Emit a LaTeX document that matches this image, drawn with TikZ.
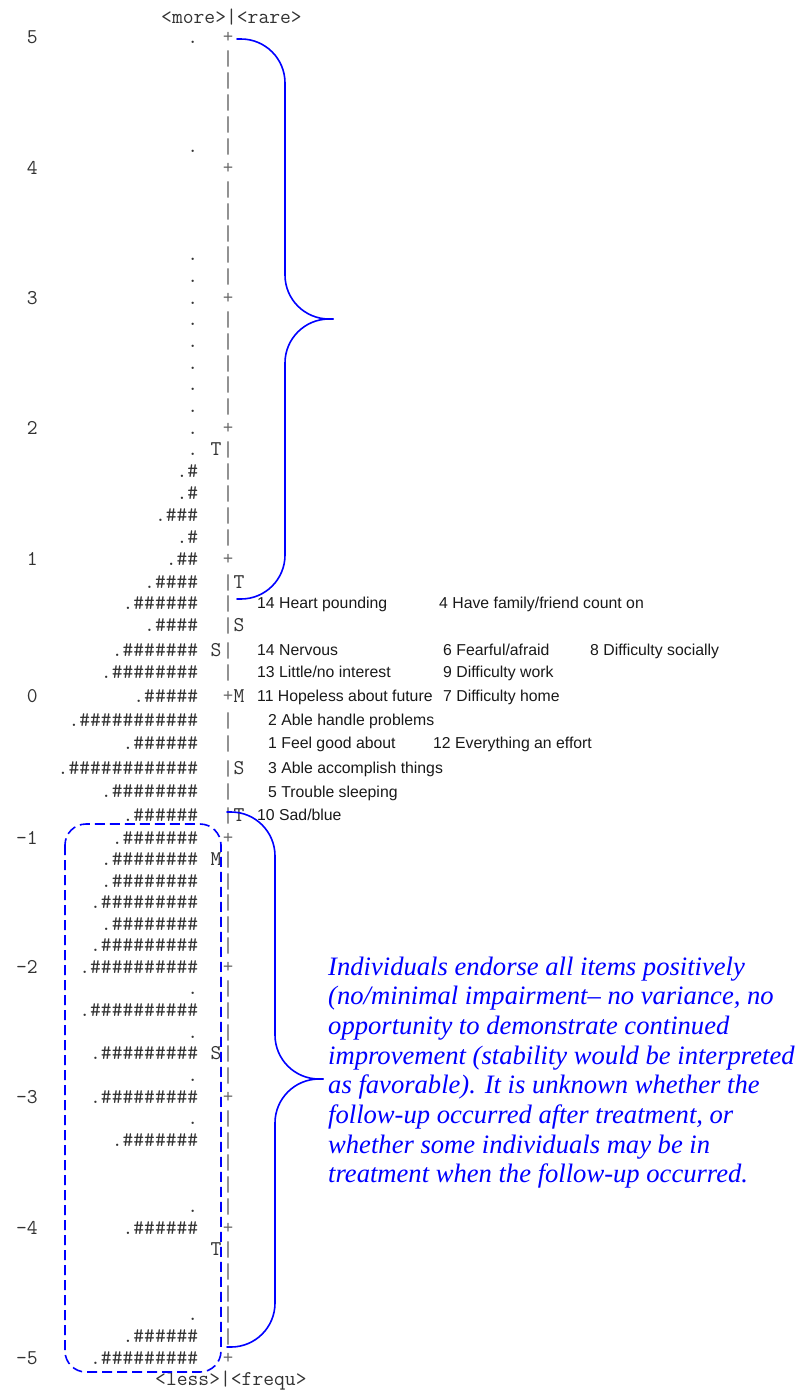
\documentclass[tikz,border=0pt]{standalone}
\usepackage{fontspec}
\usepackage{tikz}
\newfontfamily\itemfont{Liberation Sans}
\newfontfamily\notefont{Liberation Serif}
\newfontfamily\axfont{Liberation Mono}
\definecolor{qqqqff}{rgb}{0.,0.,1.}
\definecolor{wwwwww}{rgb}{0.4,0.4,0.4}
\definecolor{sqsqsq}{rgb}{0.2,0.2,0.2}
\newcommand{\hashes}[1]{\ifnum#1>0 \#\expandafter\hashes\expandafter{\the\numexpr#1-1\relax}\fi}
\tikzstyle{every node}=[inner sep=0pt]
\tikzset{
  tt/.style={font=\ttfamily\fontsize{21}{21}\selectfont,text=sqsqsq},
  axchar/.style={font=\axfont\fontsize{17.5}{17.5}\selectfont,text=wwwwww,anchor=base},
  item/.style={font=\itemfont\fontsize{15.8}{16}\selectfont,text=black!90,anchor=base west},
  noteline/.style={font=\notefont\itshape\fontsize{26.6}{29.7}\selectfont,text=qqqqff,anchor=base west},
  brace/.style={line width=1.6pt,color=qqqqff,rounded corners=44pt},
}
\begin{document}
\begin{tikzpicture}[line cap=round,line join=round,x=1pt,y=-1pt]
\useasboundingbox (0,0) rectangle (804,1393);

\node[tt,anchor=base west] (head) at (161,23) {<more>|<rare>};
\node[tt,anchor=base west] (foot) at (155,1385) {<less>|<frequ>};

\foreach \yy [count=\k from 0] in {37,58.8,80.7,102.5,124.3,146.2,
    168,189.7,211.3,233,254.7,276.3, 298,319.7,341.3,363,384.7,406.3,
    428,449.8,471.7,493.5,515.3,537.2, 559,582,603,625,650,672,
    696,720,743.3,768.3,791.7,815, 838,859.5,881,902.5,924,945.5,
    967,988.7,1010.3,1032,1053.7,1075.3, 1097,1118.8,1140.7,1162.5,1184.3,1206.2,
    1228,1249.7,1271.3,1293,1314.7,1336.3, 1358}{
  \pgfmathtruncatemacro{\r}{mod(\k,6)}
  \ifnum\r=0 \def\c{+}\else\def\c{|}\fi
  \node[axchar] (ax\k) at (228,\yy+5) {\c};
}

\foreach \yy/\n [count=\k] in {37/0,146.2/0,254.7/0,276.3/0,298/0,319.7/0,341.3/0,
    363/0,384.7/0,406.3/0,428/0,449.8/0,471.7/1,493.5/1,515.3/3,537.2/1,559/2,
    582/4,603/6,625/4,650/7,672/8,696/5,720/11,743.3/6,768.3/12,791.7/8,815/6,
    838/7,859.5/8,881/8,902.5/9,924/8,945.5/9,967/10,988.7/0,1010.3/10,1032/0,
    1053.7/9,1075.3/0,1097/9,1118.8/0,1140.7/7,1206.2/0,1228/6,1314.7/0,1336.3/6,1358/9}
  \node[tt,anchor=base east] (h\k) at (198.5,\yy+6) {.\hashes{\n}};

\foreach \yy/\v [count=\k] in {37/5,168/4,298/3,428/2,559/1,696/0,838/-1,967/-2,1097/-3,1228/-4,1358/-5}
  \node[tt,anchor=base east] (num\k) at (38,\yy+6) {\v};

\foreach \xx/\yy/\m [count=\k] in {216/449.8/T,216/650/S,216/859.5/M,216/1053.7/S,216/1249.7/T,
    239/582/T,239/625/S,239/696/M,239/768.3/S,239/815/T}
  \node[tt,anchor=base] (mk\k) at (\xx,\yy+6) {\m};

\node[item] (i14a) at (257,608.5) {14 Heart pounding};
\node[item] (i4) at (439,608.5) {4 Have family/friend count on};
\node[item] (i14b) at (257,655.5) {14 Nervous};
\node[item] (i6) at (443,655.5) {6 Fearful/afraid};
\node[item] (i8) at (590,655.5) {8 Difficulty socially};
\node[item] (i13) at (257,677.5) {13 Little/no interest};
\node[item] (i9) at (443,677.5) {9 Difficulty work};
\node[item] (i11) at (257,701.5) {11 Hopeless about future};
\node[item] (i7) at (443,701.5) {7 Difficulty home};
\node[item] (i2) at (268,725.5) {2 Able handle problems};
\node[item] (i1) at (268,748.8) {1 Feel good about};
\node[item] (i12) at (433,748.8) {12 Everything an effort};
\node[item] (i3) at (268,773.8) {3 Able accomplish things};
\node[item] (i5) at (268,797.2) {5 Trouble sleeping};
\node[item] (i10) at (257,820.5) {10 Sad/blue};

\draw[line width=1.6pt,color=qqqqff,line cap=butt,dash pattern=on 10pt off 5pt,rounded corners=21pt] (65,824) rectangle (221,1372);

\coordinate (upA) at (237,39);
\coordinate (upTip) at (333,319);
\coordinate (upB) at (237,599);
\draw[brace] (upA) -| (285,319) -- (upTip);
\draw[brace] (upTip) -- (285,319) |- (upB);

\coordinate (lowA) at (227,812);
\coordinate (lowTip) at (323,1079);
\coordinate (lowB) at (227,1347);
\draw[brace] (lowA) -| (275,1079) -- (lowTip);
\draw[brace] (lowTip) -- (275,1079) |- (lowB);

\foreach \ln [count=\i from 0] in {{Individuals endorse all items positively},
    {(no/minimal impairment– no variance, no},
    {opportunity to demonstrate continued},
    {improvement (stability would be interpreted},
    {as favorable). It is unknown whether the},
    {follow-up occurred after treatment, or},
    {whether some individuals may be in},
    {treatment when the follow-up occurred.}}
  \node[noteline] (note\i) at (328,975+29.7*\i) {\ln};
\end{tikzpicture}
\end{document}
